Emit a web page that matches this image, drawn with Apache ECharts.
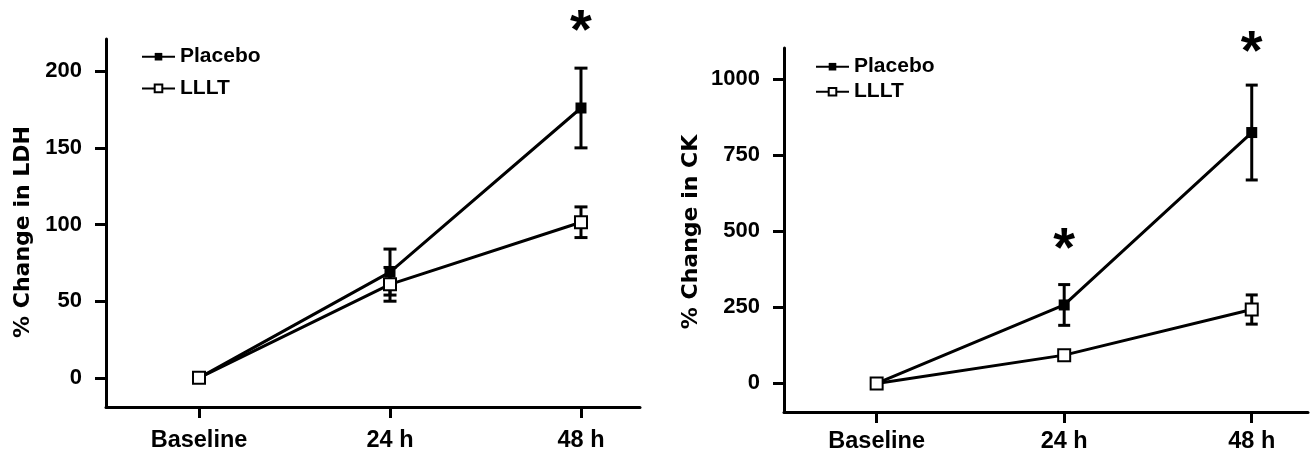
<!DOCTYPE html>
<html><head><meta charset="utf-8">
<script src="https://cdn.jsdelivr.net/npm/echarts@6/dist/echarts.min.js"></script>
<style>html,body{margin:0;padding:0;background:#fff}#c{width:1310px;height:456px}</style>
</head><body><div id="c"></div>
<script>
const categories = ['Baseline', '24 h', '48 h'];
const seriesNames = ['Placebo', 'LLLT'];
const ldhPlacebo = [0, 69, 176];
const ldhPlaceboErr = [0, 15, 26];
const ldhLLLT = [0, 61, 101.5];
const ldhLLLTErr = [0, 11, 10];
const ckPlacebo = [0, 258, 825];
const ckPlaceboErr = [0, 67, 156];
const ckLLLT = [0, 93, 243];
const ckLLLTErr = [0, 8, 48];
const ldhTicks = [0, 50, 100, 150, 200];
const ckTicks = [0, 250, 500, 750, 1000];
const ldhStars = [null, null, 233];
const ckStars = [null, 477, 1123];

const chart = echarts.init(document.getElementById('c'), null, {renderer: 'canvas'});
const tickFont = '"Liberation Sans", Arial, sans-serif';
const boldFont = '"Liberation Sans", Arial, sans-serif';
const nameFont = '"DejaVu Sans", sans-serif';

function pts(vals) { return vals.map((v, i) => [i, v]); }
function errSeries(idx, vals, errs, cap) {
  return {
    type: 'custom', xAxisIndex: idx, yAxisIndex: idx, z: 1, silent: true,
    data: vals.map((v, i) => [i, v, errs[i]]),
    renderItem(params, api) {
      const x = api.value(0), y = api.value(1), e = api.value(2);
      if (!e) return null;
      const top = api.coord([x, y + e]), bot = api.coord([x, y - e]);
      const st = {stroke: '#000', lineWidth: 3};
      return {type: 'group', children: [
        {type: 'line', shape: {x1: top[0], y1: top[1], x2: bot[0], y2: bot[1]}, style: st},
        {type: 'line', shape: {x1: top[0] - cap / 2, y1: top[1], x2: top[0] + cap / 2, y2: top[1]}, style: st},
        {type: 'line', shape: {x1: bot[0] - cap / 2, y1: bot[1], x2: bot[0] + cap / 2, y2: bot[1]}, style: st}
      ]};
    }
  };
}
function starSeries(idx, stars) {
  return {
    type: 'custom', xAxisIndex: idx, yAxisIndex: idx, z: 5, silent: true, clip: false,
    data: stars.map((v, i) => [i, v]).filter(d => d[1] !== null),
    renderItem(params, api) {
      const p = api.coord([api.value(0), api.value(1)]);
      return {type: 'text', x: p[0], y: p[1] + 12, style: {text: '*', font: 'bold 56px "Liberation Sans", Arial, sans-serif', fill: '#000', align: 'center', verticalAlign: 'middle'}};
    }
  };
}
function lineSeries(idx, name, vals) {
  const isP = name === 'Placebo';
  return {
    type: 'line', name: name, xAxisIndex: idx, yAxisIndex: idx, data: pts(vals),
    symbol: isP ? 'rect' : 'emptyRect', symbolSize: isP ? 11 : 12,
    lineStyle: {color: '#000', width: 3},
    itemStyle: isP ? {color: '#000'} : {color: '#000', borderColor: '#000', borderWidth: 2.5},
    z: isP ? 3 : 4
  };
}
function xAxis(grid, min, max, margin) {
  return {
    gridIndex: grid, type: 'value', min: min, max: max,
    axisLine: {show: true, onZero: false, lineStyle: {color: '#000', width: 3}},
    axisTick: {show: true, customValues: [0, 1, 2], length: 11, lineStyle: {color: '#000', width: 3}},
    axisLabel: {customValues: [0, 1, 2], formatter: v => categories[Math.round(v)], fontFamily: boldFont, fontSize: 23.5, fontWeight: 'bold', color: '#000', margin: margin},
    splitLine: {show: false}
  };
}
function yAxis(grid, min, max, ticks, name, gap, pad) {
  return {
    gridIndex: grid, type: 'value', min: min, max: max,
    name: name, nameLocation: 'middle', nameGap: gap,
    nameTextStyle: {fontFamily: nameFont, fontWeight: 'bold', fontSize: 22, color: '#000', padding: [0, pad, 0, 0]},
    axisLine: {show: true, onZero: false, lineStyle: {color: '#000', width: 3}},
    axisTick: {show: true, customValues: ticks, length: 11, lineStyle: {color: '#000', width: 3}},
    axisLabel: {customValues: ticks, formatter: v => String(Math.round(v)), fontFamily: tickFont, fontSize: 22, fontWeight: 'bold', color: '#000', margin: 24},
    splitLine: {show: false}
  };
}
function legend(left, top, gap) {
  return {
    data: seriesNames, orient: 'vertical', left: left, top: top, padding: 0, itemGap: gap,
    itemWidth: 33, itemHeight: 9.5, selectedMode: false,
    textStyle: {fontFamily: boldFont, fontWeight: 'bold', fontSize: 21, color: '#000', lineHeight: 22}
  };
}

chart.setOption({
  animation: false,
  backgroundColor: '#fff',
  grid: [
    {left: 106, top: 39, right: 670, bottom: 49, containLabel: false, outerBoundsMode: 'none'},
    {left: 784, top: 48, right: 2, bottom: 44, containLabel: false, outerBoundsMode: 'none'}
  ],
  legend: [legend(141, 45.7, 9.7), legend(815, 55.7, 3)],
  xAxis: [xAxis(0, -0.487, 2.309, 22), xAxis(1, -0.494, 2.30, 18)],
  yAxis: [
    yAxis(0, -19, 221, ldhTicks, '% Change in LDH', 72, 18),
    yAxis(1, -94, 1103, ckTicks, '% Change in CK', 82, 4)
  ],
  series: [
    errSeries(0, ldhPlacebo, ldhPlaceboErr, 13),
    errSeries(0, ldhLLLT, ldhLLLTErr, 13),
    lineSeries(0, 'Placebo', ldhPlacebo),
    lineSeries(0, 'LLLT', ldhLLLT),
    starSeries(0, ldhStars),
    errSeries(1, ckPlacebo, ckPlaceboErr, 12),
    errSeries(1, ckLLLT, ckLLLTErr, 12),
    lineSeries(1, 'Placebo', ckPlacebo),
    lineSeries(1, 'LLLT', ckLLLT),
    starSeries(1, ckStars)
  ]
});
</script></body></html>
